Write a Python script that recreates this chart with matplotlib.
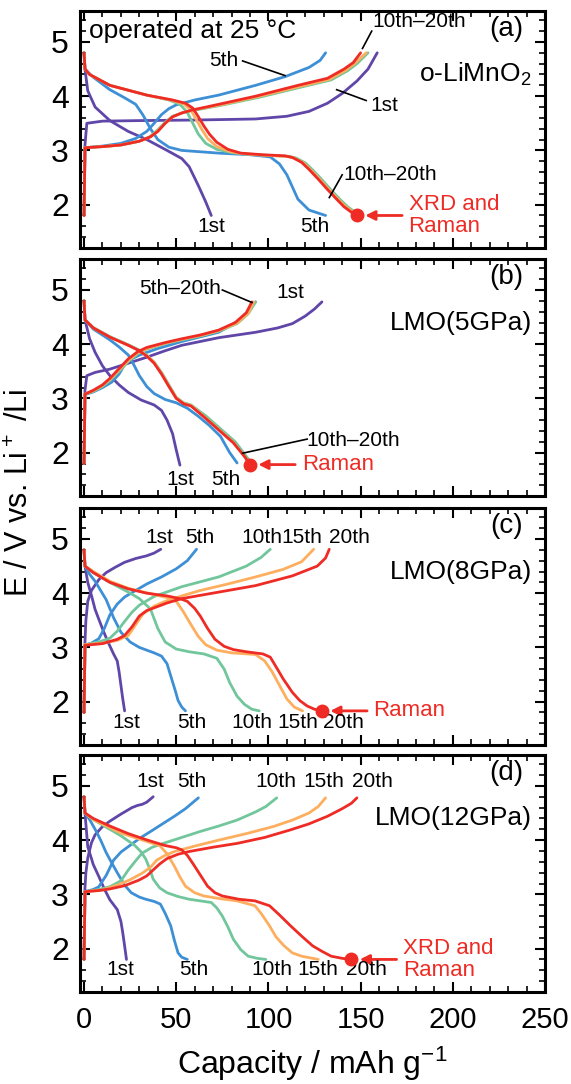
import matplotlib
matplotlib.use('Agg')
import matplotlib.pyplot as plt
from matplotlib.ticker import MultipleLocator

plt.rcParams['font.family'] = ['Liberation Sans', 'DejaVu Sans']
plt.rcParams['mathtext.fontset'] = 'custom'
plt.rcParams['mathtext.rm'] = 'Liberation Sans'
plt.rcParams['mathtext.default'] = 'regular'

PURPLE = '#5f46a8'
BLUE = '#3d8fd6'
GREEN = '#72c69c'
ORANGE = '#fdae5e'
RED = '#ee2c25'

# ---------------- (a) o-LiMnO2 ----------------
a_c1_x = [0, 0.5, 1.5, 10, 30, 60, 93, 110, 122, 132, 140, 148, 154, 159]
a_c1_y = [1.8, 3.1, 3.5, 3.54, 3.55, 3.56, 3.58, 3.63, 3.72, 3.87, 4.05, 4.28, 4.5, 4.8]
a_d1_x = [0, 0.5, 2, 6, 14, 24, 34, 45, 53, 57, 62, 66, 69]
a_d1_y = [4.8, 4.5, 4.1, 3.8, 3.55, 3.35, 3.2, 3.0, 2.85, 2.7, 2.35, 2.05, 1.8]
a_c5_x = [0, 0.5, 10, 20, 28, 34, 38, 42, 46, 50, 60, 73, 93, 109, 122, 128, 131]
a_c5_y = [1.8, 3.05, 3.08, 3.13, 3.22, 3.35, 3.5, 3.66, 3.77, 3.84, 3.93, 4.02, 4.2, 4.36, 4.53, 4.66, 4.8]
a_d5_x = [0, 0.5, 5, 14, 22, 28, 32, 36, 40, 46, 53, 73, 90, 101, 106, 110, 116, 122, 131]
a_d5_y = [4.8, 4.5, 4.35, 4.12, 3.97, 3.85, 3.65, 3.4, 3.2, 3.06, 3.0, 2.95, 2.92, 2.88, 2.75, 2.55, 2.1, 1.9, 1.8]
a_c10_x = [0, 0.5, 10, 20, 30, 36, 40, 44, 48, 53, 58, 74, 95, 118, 134, 143, 148, 154]
a_c10_y = [1.8, 3.05, 3.07, 3.1, 3.17, 3.26, 3.38, 3.52, 3.63, 3.69, 3.73, 3.83, 3.98, 4.17, 4.3, 4.47, 4.6, 4.8]
a_d10_x = [0, 0.5, 3, 14, 34, 46, 52, 56, 59, 62, 66, 72, 80, 88, 99, 111, 115, 120, 124, 129, 134, 139, 143, 147, 150]
a_d10_y = [4.8, 4.5, 4.4, 4.2, 4.02, 3.93, 3.85, 3.7, 3.5, 3.3, 3.13, 3.02, 2.96, 2.93, 2.91, 2.89, 2.86, 2.77, 2.64, 2.46, 2.27, 2.09, 1.96, 1.86, 1.8]
a_c15_x = [0, 0.5, 10, 20, 30, 36, 40, 44, 48, 53, 58, 74, 94, 117, 133, 142, 147, 153]
a_c15_y = [1.8, 3.05, 3.07, 3.1, 3.17, 3.25, 3.36, 3.5, 3.62, 3.69, 3.74, 3.84, 3.99, 4.18, 4.31, 4.48, 4.61, 4.8]
a_d15_x = [0, 0.5, 3, 14, 34, 47, 54, 58, 61, 64, 67, 72, 79, 86, 98, 110, 114, 119, 123, 128, 133, 138, 142, 146, 149]
a_d15_y = [4.8, 4.5, 4.4, 4.2, 4.02, 3.93, 3.86, 3.74, 3.56, 3.38, 3.22, 3.07, 2.98, 2.94, 2.91, 2.89, 2.86, 2.77, 2.64, 2.46, 2.27, 2.09, 1.96, 1.86, 1.8]
a_c20_x = [0, 0.5, 10, 20, 30, 36, 40, 44, 48, 53, 58, 73, 93, 116, 132, 141, 146, 150]
a_c20_y = [1.8, 3.05, 3.07, 3.1, 3.17, 3.25, 3.35, 3.5, 3.62, 3.69, 3.74, 3.85, 4.0, 4.2, 4.33, 4.5, 4.62, 4.8]
a_d20_x = [0, 0.5, 3, 14, 34, 48, 55, 59, 62, 65, 68, 72, 78, 85, 97, 109, 113, 118, 122, 127, 132, 137, 141, 145, 148]
a_d20_y = [4.8, 4.5, 4.4, 4.2, 4.02, 3.93, 3.87, 3.78, 3.62, 3.45, 3.3, 3.15, 3.02, 2.95, 2.92, 2.9, 2.87, 2.78, 2.65, 2.47, 2.28, 2.1, 1.96, 1.86, 1.8]

# ---------------- (b) LMO(5GPa) ----------------
b_c1_x = [0, 0.5, 1.5, 6, 14, 24, 34, 44, 53, 73, 93, 105, 113, 120, 125, 129]
b_c1_y = [1.8, 3.15, 3.42, 3.48, 3.54, 3.65, 3.76, 3.88, 3.98, 4.12, 4.22, 4.3, 4.38, 4.52, 4.65, 4.78]
b_d1_x = [0, 0.5, 3, 6, 10, 14, 19, 24, 31, 38, 42, 45, 48, 50, 52]
b_d1_y = [4.8, 4.45, 4.1, 3.85, 3.6, 3.42, 3.25, 3.11, 2.97, 2.88, 2.78, 2.6, 2.35, 2.05, 1.77]
b_c5_x = [0, 0.5, 5, 10, 15, 19, 23, 30, 40, 53, 73, 85, 93]
b_c5_y = [1.8, 3.07, 3.12, 3.2, 3.3, 3.45, 3.68, 3.8, 3.92, 4.05, 4.22, 4.45, 4.78]
b_d5_x = [0, 0.5, 5, 14, 19, 24, 27, 30, 34, 38, 44, 50, 56, 62, 68, 74, 79, 83]
b_d5_y = [4.8, 4.45, 4.28, 4.08, 3.95, 3.8, 3.62, 3.42, 3.22, 3.09, 2.98, 2.92, 2.82, 2.67, 2.5, 2.3, 2.0, 1.81]
b_c10_x = [0, 0.5, 5, 10, 14, 19, 24, 29, 34, 44, 53, 63, 73, 83, 89, 93]
b_c10_y = [1.8, 3.08, 3.13, 3.22, 3.33, 3.5, 3.68, 3.82, 3.91, 4.01, 4.08, 4.15, 4.24, 4.38, 4.56, 4.78]
b_d10_x = [0, 0.5, 5, 14, 24, 30, 34, 38, 42, 46, 50, 54, 58, 66, 74, 82, 88, 91]
b_d10_y = [4.8, 4.45, 4.31, 4.14, 3.99, 3.89, 3.8, 3.67, 3.48, 3.25, 3.02, 2.92, 2.88, 2.68, 2.44, 2.2, 1.93, 1.8]
b_c15_x = [0, 0.5, 5, 10, 14, 19, 24, 29, 34, 44, 53, 63, 73, 83, 89, 92]
b_c15_y = [1.8, 3.08, 3.14, 3.24, 3.35, 3.53, 3.7, 3.84, 3.92, 4.02, 4.09, 4.16, 4.25, 4.39, 4.57, 4.78]
b_d15_x = [0, 0.5, 5, 14, 24, 30, 34, 38, 42, 46, 50, 54, 58, 65, 73, 81, 87, 90]
b_d15_y = [4.8, 4.45, 4.3, 4.13, 3.98, 3.88, 3.79, 3.66, 3.46, 3.23, 3.01, 2.91, 2.87, 2.67, 2.43, 2.19, 1.93, 1.79]
b_c20_x = [0, 0.5, 5, 10, 14, 19, 24, 29, 34, 44, 53, 63, 73, 82, 88, 91]
b_c20_y = [1.8, 3.08, 3.15, 3.25, 3.37, 3.55, 3.73, 3.86, 3.94, 4.03, 4.1, 4.17, 4.26, 4.4, 4.58, 4.78]
b_d20_x = [0, 0.5, 5, 14, 24, 30, 34, 38, 42, 46, 50, 54, 58, 65, 73, 81, 87, 90]
b_d20_y = [4.8, 4.45, 4.3, 4.13, 3.98, 3.88, 3.78, 3.65, 3.45, 3.22, 3.0, 2.9, 2.86, 2.66, 2.42, 2.18, 1.93, 1.78]

# ---------------- (c) LMO(8GPa) ----------------
c_c1_x = [0, 0.5, 1, 2, 4, 8, 12, 17, 22, 28, 34, 38, 41.6]
c_c1_y = [1.8, 3.1, 3.5, 3.85, 4.05, 4.25, 4.38, 4.48, 4.57, 4.64, 4.69, 4.74, 4.81]
c_d1_x = [0, 0.5, 2, 4, 6, 8, 10.5, 13, 16, 18, 19, 20, 21, 22]
c_d1_y = [4.8, 4.5, 4.2, 3.96, 3.7, 3.52, 3.3, 3.1, 2.88, 2.75, 2.55, 2.3, 2.05, 1.83]
c_c5_x = [0, 0.5, 4, 8, 11, 14, 18, 22, 28, 34, 42, 50, 56, 61]
c_c5_y = [1.8, 3.04, 3.08, 3.16, 3.35, 3.6, 3.8, 3.93, 4.05, 4.17, 4.3, 4.45, 4.6, 4.81]
c_d5_x = [0, 0.5, 3, 6, 9, 12, 16, 20, 25, 30, 34, 38, 42, 45, 47.5, 49.5, 51, 53, 55]
c_d5_y = [4.8, 4.5, 4.35, 4.22, 4.05, 3.88, 3.55, 3.28, 3.1, 3.0, 2.95, 2.9, 2.84, 2.7, 2.42, 2.2, 2.02, 1.9, 1.83]
c_c10_x = [0, 0.5, 8, 14, 18, 22, 26, 30, 38, 53, 73, 88, 96, 101]
c_c10_y = [1.8, 3.05, 3.1, 3.17, 3.3, 3.48, 3.65, 3.78, 3.94, 4.12, 4.3, 4.5, 4.66, 4.81]
c_d10_x = [0, 0.5, 5, 14, 24, 30, 36, 40, 44, 50, 57, 65, 72, 76, 79, 83, 87, 91, 95]
c_d10_y = [4.8, 4.5, 4.38, 4.2, 4.02, 3.9, 3.71, 3.35, 3.1, 2.97, 2.92, 2.88, 2.8, 2.6, 2.35, 2.1, 1.95, 1.86, 1.83]
c_c15_x = [0, 0.5, 10, 18, 24, 28, 32, 38, 44, 53, 63, 78, 93, 108, 118, 124.5]
c_c15_y = [1.8, 3.05, 3.08, 3.13, 3.22, 3.42, 3.62, 3.76, 3.85, 3.95, 4.05, 4.17, 4.3, 4.44, 4.58, 4.81]
c_d15_x = [0, 0.5, 5, 14, 24, 35, 45, 50, 54, 58, 62, 66, 72, 80, 93, 98, 102, 106, 110, 114, 118.5]
c_d15_y = [4.8, 4.5, 4.4, 4.22, 4.09, 4.0, 3.92, 3.85, 3.65, 3.42, 3.2, 3.05, 2.95, 2.9, 2.87, 2.75, 2.55, 2.3, 2.05, 1.9, 1.83]
c_c20_x = [0, 0.5, 10, 18, 22, 26, 30, 34, 38, 45, 53, 73, 93, 113, 126.5, 131, 133]
c_c20_y = [1.8, 3.04, 3.07, 3.15, 3.22, 3.38, 3.58, 3.68, 3.73, 3.82, 3.9, 4.02, 4.14, 4.32, 4.5, 4.65, 4.81]
c_d20_x = [0, 0.5, 5, 14, 24, 34, 45, 52, 56, 60, 63, 67, 71, 76, 81, 88, 97, 101, 104, 108, 113, 117, 121, 125, 129]
c_d20_y = [4.8, 4.5, 4.38, 4.2, 4.08, 4.0, 3.95, 3.9, 3.85, 3.72, 3.58, 3.35, 3.15, 3.02, 2.96, 2.92, 2.88, 2.82, 2.65, 2.42, 2.17, 2.02, 1.92, 1.86, 1.83]

# ---------------- (d) LMO(12GPa) ----------------
d_c1_x = [0, 0.5, 1, 2, 4, 6, 10, 14, 20, 26, 29, 31.5, 34, 37.5]
d_c1_y = [1.8, 3.12, 3.4, 3.67, 3.95, 4.1, 4.25, 4.35, 4.48, 4.6, 4.64, 4.66, 4.7, 4.8]
d_d1_x = [0, 0.5, 2, 5, 8, 11, 14, 18, 20, 21, 22, 23]
d_d1_y = [4.8, 4.5, 3.88, 3.55, 3.33, 3.1, 2.9, 2.72, 2.5, 2.29, 2.05, 1.8]
d_c5_x = [0, 0.5, 5, 8, 12, 16, 20, 24, 30, 37.5, 43, 49, 55, 62]
d_c5_y = [1.8, 3.05, 3.09, 3.14, 3.35, 3.63, 3.78, 3.88, 4.03, 4.19, 4.31, 4.44, 4.58, 4.78]
d_d5_x = [0, 0.5, 3, 6, 9, 12, 15, 18, 22, 25.6, 30, 33.5, 38, 41.4, 44, 47, 49, 51, 53, 56]
d_d5_y = [4.8, 4.5, 4.38, 4.2, 4.0, 3.77, 3.58, 3.4, 3.17, 3.03, 2.95, 2.91, 2.87, 2.82, 2.65, 2.42, 2.15, 1.92, 1.84, 1.8]
d_c10_x = [0, 0.5, 8, 14, 20, 24, 28, 31.5, 37, 43, 53, 63, 73, 83, 93, 98.6, 104.5]
d_c10_y = [1.8, 3.05, 3.09, 3.14, 3.25, 3.45, 3.62, 3.76, 3.87, 3.94, 4.05, 4.16, 4.26, 4.37, 4.52, 4.62, 4.78]
d_d10_x = [0, 0.5, 5, 14, 20, 27.6, 31, 33.5, 35.5, 37.5, 41, 45, 51, 57, 63, 69, 72, 75, 78, 81, 85, 89, 94, 98.6]
d_d10_y = [4.8, 4.5, 4.38, 4.2, 4.08, 3.9, 3.78, 3.65, 3.48, 3.28, 3.12, 3.03, 2.96, 2.91, 2.88, 2.85, 2.75, 2.6, 2.4, 2.17, 1.98, 1.86, 1.82, 1.8]
d_c15_x = [0, 0.5, 10, 18, 25, 31.5, 36, 39.4, 44, 49, 60, 73, 88, 102.6, 113, 122, 127, 131]
d_c15_y = [1.8, 3.05, 3.08, 3.17, 3.27, 3.39, 3.5, 3.63, 3.72, 3.79, 3.89, 4.0, 4.12, 4.25, 4.37, 4.5, 4.62, 4.78]
d_d15_x = [0, 0.5, 5, 20, 30, 41, 45, 49, 52, 55, 60, 65, 74, 83, 92.7, 96, 100.6, 104, 108.5, 113, 118, 127]
d_d15_y = [4.8, 4.5, 4.38, 4.13, 4.02, 3.9, 3.75, 3.52, 3.32, 3.15, 3.03, 2.97, 2.92, 2.88, 2.79, 2.65, 2.42, 2.22, 2.05, 1.92, 1.86, 1.8]
d_c20_x = [0, 0.5, 8, 14, 22, 29.6, 34, 37.5, 41, 45, 51, 57, 70, 83, 98, 112, 122, 132, 140, 145, 148]
d_c20_y = [1.8, 3.05, 3.07, 3.1, 3.16, 3.26, 3.34, 3.45, 3.56, 3.66, 3.74, 3.79, 3.87, 3.94, 4.05, 4.19, 4.3, 4.44, 4.58, 4.68, 4.78]
d_d20_x = [0, 0.5, 5, 14, 24, 33.5, 44, 50, 53, 56, 59, 63, 67, 71, 75, 84, 92.7, 100.6, 106, 112, 118, 124, 129, 134, 140, 145]
d_d20_y = [4.8, 4.5, 4.4, 4.26, 4.12, 4.01, 3.9, 3.86, 3.82, 3.72, 3.57, 3.36, 3.15, 3.03, 2.97, 2.91, 2.88, 2.79, 2.62, 2.42, 2.23, 2.05, 1.95, 1.86, 1.82, 1.8]

panel_tags = ['(a)', '(b)', '(c)', '(d)']
sample_names = ['o-LiMnO$_2$', 'LMO(5GPa)', 'LMO(8GPa)', 'LMO(12GPa)']
marker_x = [148, 90, 129, 145]
marker_y = [1.8, 1.78, 1.83, 1.8]
marker_text = ['XRD and\nRaman', 'Raman', 'Raman', 'XRD and\nRaman']

fig = plt.figure(figsize=(5.71, 10.84), dpi=100)
bottoms = [0.7712, 0.5424, 0.3127, 0.0849]
axes = [fig.add_axes([0.1401, b, 0.8144, 0.2186]) for b in bottoms]

curves = [
    [(a_c1_x, a_c1_y, a_d1_x, a_d1_y, PURPLE), (a_c5_x, a_c5_y, a_d5_x, a_d5_y, BLUE),
     (a_c10_x, a_c10_y, a_d10_x, a_d10_y, GREEN), (a_c15_x, a_c15_y, a_d15_x, a_d15_y, ORANGE),
     (a_c20_x, a_c20_y, a_d20_x, a_d20_y, RED)],
    [(b_c1_x, b_c1_y, b_d1_x, b_d1_y, PURPLE), (b_c5_x, b_c5_y, b_d5_x, b_d5_y, BLUE),
     (b_c10_x, b_c10_y, b_d10_x, b_d10_y, GREEN), (b_c15_x, b_c15_y, b_d15_x, b_d15_y, ORANGE),
     (b_c20_x, b_c20_y, b_d20_x, b_d20_y, RED)],
    [(c_c1_x, c_c1_y, c_d1_x, c_d1_y, PURPLE), (c_c5_x, c_c5_y, c_d5_x, c_d5_y, BLUE),
     (c_c10_x, c_c10_y, c_d10_x, c_d10_y, GREEN), (c_c15_x, c_c15_y, c_d15_x, c_d15_y, ORANGE),
     (c_c20_x, c_c20_y, c_d20_x, c_d20_y, RED)],
    [(d_c1_x, d_c1_y, d_d1_x, d_d1_y, PURPLE), (d_c5_x, d_c5_y, d_d5_x, d_d5_y, BLUE),
     (d_c10_x, d_c10_y, d_d10_x, d_d10_y, GREEN), (d_c15_x, d_c15_y, d_d15_x, d_d15_y, ORANGE),
     (d_c20_x, d_c20_y, d_d20_x, d_d20_y, RED)],
]

for i, ax in enumerate(axes):
    for cx, cy, dx, dy, col in curves[i]:
        ax.plot(cx, cy, color=col, lw=2.0, solid_capstyle='round')
        ax.plot(dx, dy, color=col, lw=2.0, solid_capstyle='round')
    ax.set_xlim(-2.2, 250)
    ax.set_ylim(1.2, 5.57)
    ax.xaxis.set_major_locator(MultipleLocator(50))
    ax.xaxis.set_minor_locator(MultipleLocator(10))
    ax.yaxis.set_major_locator(MultipleLocator(1))
    ax.yaxis.set_minor_locator(MultipleLocator(0.2))
    ax.tick_params(which='both', direction='in', top=True, right=True)
    ax.tick_params(which='major', length=7, width=1.5)
    ax.tick_params(which='minor', length=4, width=1.2)
    ax.tick_params(axis='y', pad=8, labelsize=23)
    ax.tick_params(axis='x', pad=10, labelsize=21)
    for s in ax.spines.values():
        s.set_linewidth(2.2)
    if i < 3:
        ax.set_xticklabels([])
    ax.text(238, 5.24, panel_tags[i], ha='right', va='center', fontsize=20)
    ax.text(243, 4.40, sample_names[i], ha='right', va='center', fontsize=19)
    # measurement point and arrow
    ax.plot(marker_x[i], marker_y[i], 'o', color=RED, ms=9, zorder=5)
    ax.annotate('', xy=(marker_x[i] + 3, marker_y[i]), xytext=(marker_x[i] + 26, marker_y[i]),
                arrowprops=dict(arrowstyle='-|>', color=RED, lw=2, mutation_scale=14))
    ax.text(marker_x[i] + 28, marker_y[i], marker_text[i], color=RED, fontsize=16,
            ha='left', va='center', linespacing=1.05)

fs = 15
ax = axes[0]
ax.text(2.5, 5.2, 'operated at 25 \u00b0C', ha='left', va='center', fontsize=19)
ax.text(182, 5.38, '10th\u201320th', ha='center', va='center', fontsize=fs)
ax.plot([156, 151], [5.2, 4.88], color='k', lw=1.2)
ax.text(76, 4.65, '5th', ha='center', va='center', fontsize=fs)
ax.plot([86, 109], [4.65, 4.38], color='k', lw=1.2)
ax.text(163, 3.82, '1st', ha='center', va='center', fontsize=fs)
ax.plot([153, 137], [3.92, 4.12], color='k', lw=1.2)
ax.text(166, 2.55, '10th\u201320th', ha='center', va='center', fontsize=fs)
ax.plot([140, 133], [2.55, 2.13], color='k', lw=1.2)
ax.text(69, 1.6, '1st', ha='center', va='center', fontsize=fs)
ax.text(125, 1.6, '5th', ha='center', va='center', fontsize=fs)

ax = axes[1]
ax.text(52, 5.02, '5th\u201320th', ha='center', va='center', fontsize=fs)
ax.plot([75, 91], [5.0, 4.77], color='k', lw=1.2)
ax.text(112, 4.96, '1st', ha='center', va='center', fontsize=fs)
ax.text(146, 2.22, '10th\u201320th', ha='center', va='center', fontsize=fs)
ax.plot([121, 86], [2.25, 1.99], color='k', lw=1.2)
ax.text(52, 1.5, '1st', ha='center', va='center', fontsize=fs)
ax.text(77, 1.5, '5th', ha='center', va='center', fontsize=fs)

ax = axes[2]
for x, t in zip([40.6, 62.8, 96.3, 118, 144], ['1st', '5th', '10th', '15th', '20th']):
    ax.text(x, 5.03, t, ha='center', va='center', fontsize=fs)
for x, t in zip([22.8, 58.3, 91, 116, 140.7], ['1st', '5th', '10th', '15th', '20th']):
    ax.text(x, 1.62, t, ha='center', va='center', fontsize=fs)

ax = axes[3]
for x, t in zip([36.2, 58.3, 104, 130, 156.5], ['1st', '5th', '10th', '15th', '20th']):
    ax.text(x, 5.09, t, ha='center', va='center', fontsize=fs)
for x, t in zip([19.4, 59.3, 101.8, 127, 153], ['1st', '5th', '10th', '15th', '20th']):
    ax.text(x, 1.62, t, ha='center', va='center', fontsize=fs)

axes[3].set_xlabel('Capacity / mAh g$^{-1}$', fontsize=23, labelpad=8)
fig.text(0.035, 0.545, 'E / V vs. Li$^+$ /Li', rotation=90, ha='center', va='center', fontsize=22)

fig.savefig('out.png', dpi=100)
